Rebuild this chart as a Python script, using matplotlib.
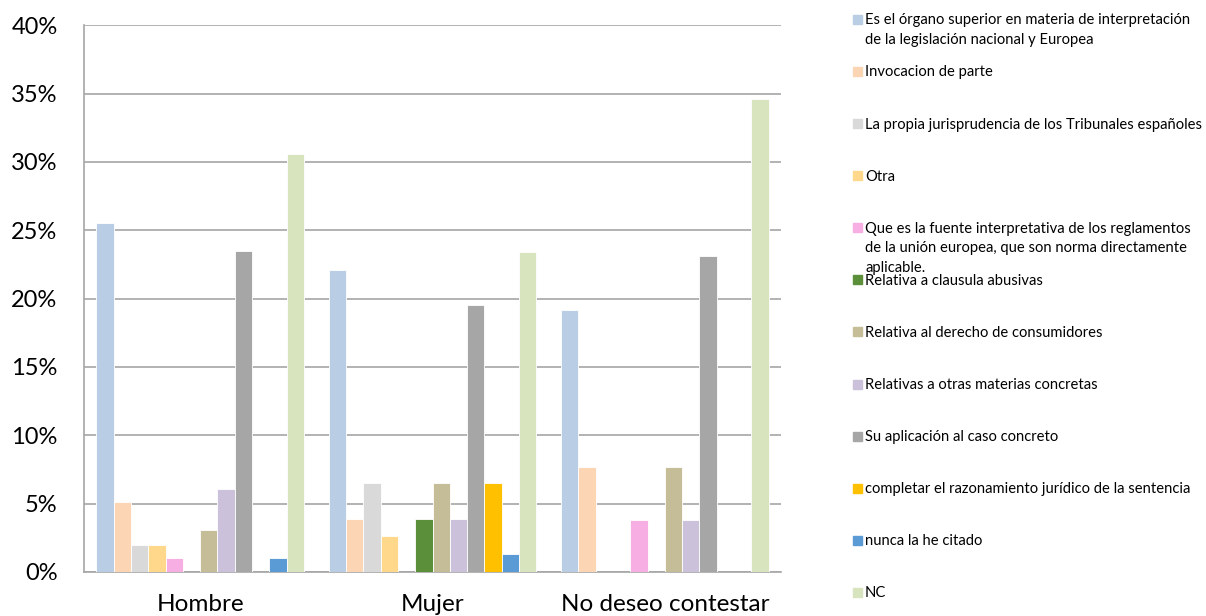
import numpy as np
import matplotlib.pyplot as plt
from matplotlib.patches import Rectangle
from matplotlib.ticker import PercentFormatter

plt.rcParams['font.family'] = ['Lato', 'DejaVu Sans']

groups = ["Hombre", "Mujer", "No deseo contestar"]

series = [
    "Es el órgano superior en materia de interpretación\nde la legislación nacional y Europea",
    "Invocacion de parte",
    "La propia jurisprudencia de los Tribunales españoles",
    "Otra",
    "Que es la fuente interpretativa de los reglamentos\nde la unión europea, que son norma directamente\naplicable.",
    "Relativa a clausula abusivas",
    "Relativa al derecho de consumidores",
    "Relativas a otras materias concretas",
    "Su aplicación al caso concreto",
    "completar el razonamiento jurídico de la sentencia",
    "nunca la he citado",
    "NC",
]

colors = ["#B9CDE5", "#FCD5B5", "#D9D9D9", "#FFD88C", "#F6AEE3", "#5B8F3A",
          "#C4BD97", "#CCC1DA", "#A6A6A6", "#FFC000", "#5B9BD5", "#D7E4BD"]

# percentages per series: [Hombre, Mujer, No deseo contestar]
values = [
    [25.5, 22.1, 19.2],
    [5.1, 3.9, 7.7],
    [2.0, 6.5, 0.0],
    [2.0, 2.6, 0.0],
    [1.0, 0.0, 3.8],
    [0.0, 3.9, 0.0],
    [3.1, 6.5, 7.7],
    [6.1, 3.9, 3.8],
    [23.5, 19.5, 23.1],
    [0.0, 6.5, 0.0],
    [1.0, 1.3, 0.0],
    [30.6, 23.4, 34.6],
]

fig = plt.figure(figsize=(12.06, 6.16), dpi=100)
ax = fig.add_axes([84 / 1206, 1 - 572 / 616, (781 - 84) / 1206, (572 - 25.3) / 616])

x = np.arange(len(groups))
n = len(series)
group_w = 12 / 13.43
w = group_w / n
for i, (vals, c) in enumerate(zip(values, colors)):
    ax.bar(x - group_w / 2 + (i + 0.5) * w, vals, width=w, color=c,
           edgecolor="white", linewidth=[0.6 if v > 0 else 0 for v in vals], zorder=3)

ax.set_xlim(-0.5, 2.5)
ax.set_ylim(0, 40)
ax.set_yticks(np.arange(0, 41, 5))
ax.yaxis.set_major_formatter(PercentFormatter(decimals=0))
ax.grid(axis="y", color="#A6A6A6", linewidth=1.2, zorder=0)
ax.set_xticks(x)
ax.set_xticklabels(groups)
ax.tick_params(axis="both", length=0, colors="black")
ax.tick_params(axis="x", pad=16, labelsize=17.5)
ax.tick_params(axis="y", pad=19, labelsize=17)
for s in ["top", "right"]:
    ax.spines[s].set_visible(False)
for s in ["left", "bottom"]:
    ax.spines[s].set_color("#A6A6A6")
    ax.spines[s].set_linewidth(1.2)

# legend drawn entry by entry with fixed spacing, one text per line
y0 = 19.3
step = 52.1
for i, (lab, c) in enumerate(zip(series, colors)):
    yc = y0 + i * step
    fig.patches.append(Rectangle((853 / 1206, 1 - (yc + 4.5) / 616), 9 / 1206, 9 / 616,
                                 transform=fig.transFigure, color=c, figure=fig))
    for k, line in enumerate(lab.split("\n")):
        fig.text(865 / 1206, 1 - (yc + 5 + k * 19.5) / 616, line, fontsize=10.6,
                 va="baseline", ha="left")

fig.savefig("out.png", dpi=100)
